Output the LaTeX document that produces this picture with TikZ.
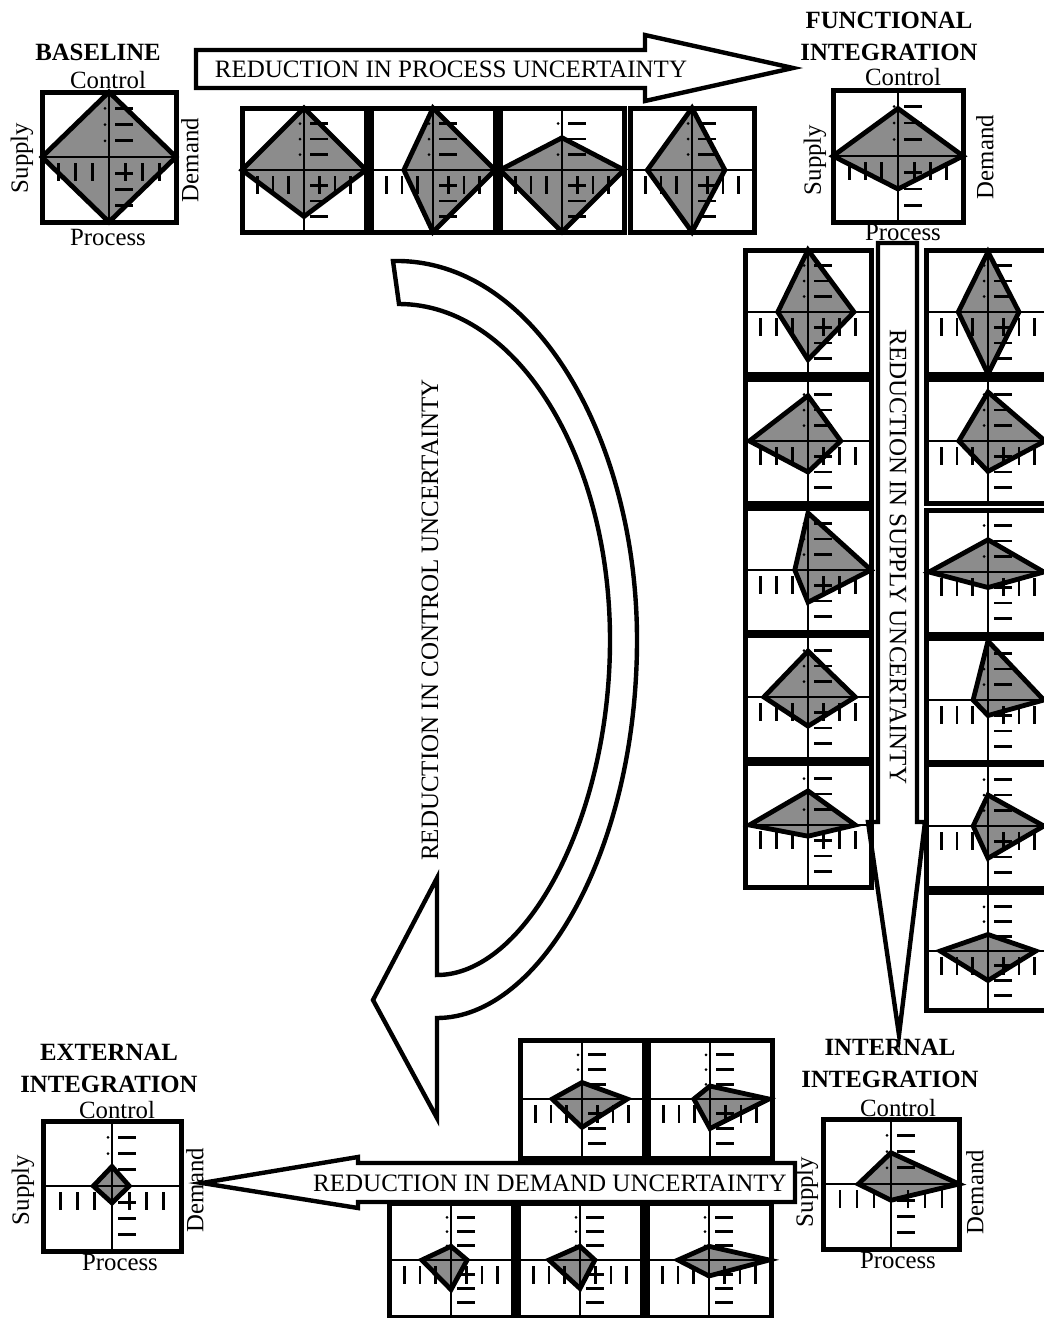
\documentclass[tikz,border=0pt]{standalone}
\usepackage{fontspec}
\setmainfont{Liberation Serif}
\usepackage{xcolor}
\definecolor{radarGray}{HTML}{8C8C8C}
\usepackage{tikz}

% radar panel: name, centre x, centre y, half width, half height,
% control, demand, process, supply (fractions of the half sizes)
\newcommand{\radar}[9]{%
	\begin{scope}[shift={(#2,#3)}]
		\coordinate (#1) at (0,0);
		\fill[radarGray] (0,{-#6*#5}) -- ({#7*#4},0) -- (0,{#8*#5}) -- ({-#9*#4},0) -- cycle;
		\draw[axisline] ({-#4},0) -- (#4,0) (0,{-#5}) -- (0,#5);
		\foreach \k in {1,2,3}{
			\draw[tickmark] (6,{-\k*#5/4}) -- (24,{-\k*#5/4}) (6,{\k*#5/4}) -- (24,{\k*#5/4});
			\draw[tickmark] ({-\k*#4/4},6) -- ({-\k*#4/4},24) ({\k*#4/4},6) -- ({\k*#4/4},24);
			\fill (-4,{-\k*#5/4}) circle (1.5);
		}
		\draw[spider] (0,{-#6*#5}) -- ({#7*#4},0) -- (0,{#8*#5}) -- ({-#9*#4},0) -- cycle;
		\draw[panelbox] ({-#4},{-#5}) rectangle (#4,#5);
	\end{scope}}

\begin{document}
\begin{tikzpicture}[
		x=0.5pt, y=-0.5pt,
		panelbox/.style={line width=2.5pt},
		axisline/.style={line width=0.7pt},
		tickmark/.style={line width=1.3pt},
		spider/.style={line width=2.4pt, line join=miter},
		blockarrow/.style={draw, fill=white, line width=2.2pt, line join=miter},
		axisname/.style={inner sep=0pt, font=\fontsize{12.4}{16}\selectfont},
		arrowtext/.style={inner sep=0pt, font=\fontsize{12.5}{16}\selectfont},
		heading/.style={inner sep=0pt, align=center, font=\fontsize{12.4}{16}\selectfont\bfseries}
		]
		\useasboundingbox (0,0) rectangle (1044,1318);
		\clip (0,0) rectangle (1044,1318);
		
		% block arrows
		\draw[blockarrow] (196,50) -- (645,50) -- (645,35) -- (793,68) -- (645,101) -- (645,88) -- (196,88) -- cycle;
		\node[arrowtext] (procText) at (451,69) {REDUCTION IN PROCESS UNCERTAINTY};
		
		\draw[blockarrow] (878,243) -- (917,243) -- (917,822) -- (925,822) -- (899,1035) -- (868,822) -- (878,822) -- cycle;
		\node[arrowtext, rotate=-90] (supText) at (898,557) {REDUCTION IN SUPPLY UNCERTAINTY};
		
		\draw[blockarrow] (393,261) .. controls (535,258) and (637,440) .. (637,640)
			.. controls (637,850) and (540,1018) .. (437,1018) -- (437,1118) -- (373,1000) -- (437,878) -- (437,975)
			.. controls (525,975) and (610,820) .. (610,640) .. controls (610,455) and (516,304) .. (399,304) -- cycle;
		\node[arrowtext, rotate=90] (ctrlText) at (430,620) {REDUCTION IN CONTROL UNCERTAINTY};
		
		\draw[blockarrow] (795,1163) -- (358,1163) -- (358,1157) -- (202,1183) -- (358,1208) -- (358,1202) -- (795,1202) -- cycle;
		\node[arrowtext] (demText) at (550,1183) {REDUCTION IN DEMAND UNCERTAINTY};
		
		% baseline
		\radar{base}{109}{157}{67}{65}{1}{1}{1}{1}
		\node[heading] (baseTitle) at (98,52) {BASELINE};
		\node[axisname] (baseC) at (108,80) {Control};
		\node[axisname, rotate=90] (baseS) at (22,158) {Supply};
		\node[axisname, rotate=90] (baseD) at (190,160) {Demand};
		\node[axisname] (baseP) at (108,237) {Process};
		
		% process steps
		\radar{procA}{304}{170}{62}{62}{1}{1}{0.75}{1}
		\radar{procB}{433}{170}{62}{62}{1}{1}{1}{0.47}
		\radar{procC}{562}{170}{62}{62}{0.52}{1}{1}{1}
		\radar{procD}{692}{170}{62}{62}{1}{0.53}{1}{0.72}
		
		% functional integration
		\radar{func}{898}{156}{65}{66}{0.72}{1}{0.5}{1}
		\node[heading] (funcTitle) at (889,36) {FUNCTIONAL\\INTEGRATION};
		\node[axisname] (funcC) at (903,77) {Control};
		\node[axisname, rotate=90] (funcS) at (815,160) {Supply};
		\node[axisname, rotate=90] (funcD) at (985,157) {Demand};
		\node[axisname] (funcP) at (903,232) {Process};
		
		% supply steps
		\radar{supA}{808}{312}{63}{62}{1}{0.73}{0.77}{0.48}
		\radar{supB}{808}{441}{63}{62}{0.73}{0.52}{0.5}{0.93}
		\radar{supC}{808}{570}{63}{62}{0.92}{1}{0.52}{0.21}
		\radar{supD}{808}{697}{63}{62}{0.74}{0.75}{0.47}{0.7}
		\radar{supE}{808}{825}{63}{62}{0.55}{0.75}{0.18}{0.93}
		\radar{supF}{988}{312}{62}{62}{0.97}{0.5}{1}{0.48}
		\radar{supG}{988}{441}{62}{62}{0.79}{0.92}{0.49}{0.47}
		\radar{supH}{988}{572}{62}{62}{0.52}{0.9}{0.25}{0.95}
		\radar{supI}{988}{700}{62}{62}{0.95}{0.9}{0.25}{0.24}
		\radar{supJ}{988}{826}{62}{62}{0.5}{0.9}{0.52}{0.24}
		\radar{supK}{988}{951}{62}{59}{0.28}{0.77}{0.5}{0.77}
		
		% internal integration
		\radar{intl}{891}{1184}{68}{65}{0.48}{1}{0.25}{0.48}
		\node[heading] (intlTitle) at (890,1063) {INTERNAL\\INTEGRATION};
		\node[axisname] (intlC) at (898,1108) {Control};
		\node[axisname, rotate=90] (intlS) at (807,1192) {Supply};
		\node[axisname, rotate=90] (intlD) at (975,1192) {Demand};
		\node[axisname] (intlP) at (898,1260) {Process};
		
		% demand steps
		\radar{demA}{582}{1099}{62}{59}{0.28}{0.73}{0.48}{0.48}
		\radar{demB}{710}{1099}{62}{59}{0.22}{0.95}{0.5}{0.26}
		\radar{demC}{451}{1260}{62}{57}{0.24}{0.26}{0.52}{0.47}
		\radar{demD}{580}{1260}{62}{57}{0.24}{0.24}{0.5}{0.5}
		\radar{demE}{709}{1260}{62}{57}{0.24}{0.97}{0.28}{0.5}
		
		% external integration
		\radar{extl}{112}{1186}{69}{65}{0.3}{0.25}{0.26}{0.27}
		\node[heading] (extlTitle) at (109,1068) {EXTERNAL\\INTEGRATION};
		\node[axisname] (extlC) at (117,1110) {Control};
		\node[axisname, rotate=90] (extlS) at (23,1190) {Supply};
		\node[axisname, rotate=90] (extlD) at (195,1190) {Demand};
		\node[axisname] (extlP) at (120,1262) {Process};
		
	\end{tikzpicture}
\end{document}
